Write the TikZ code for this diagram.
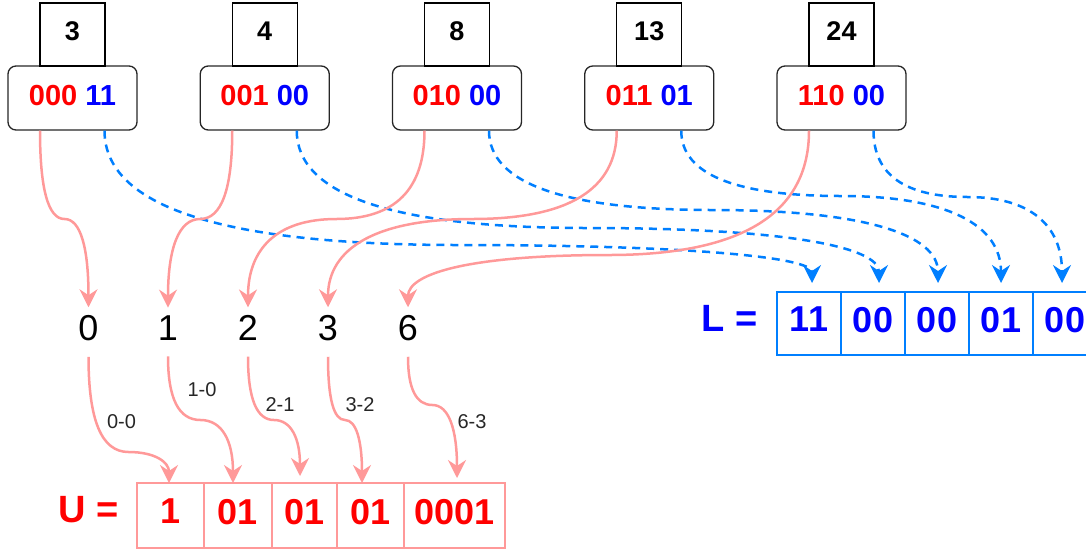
\documentclass[tikz,border=0pt]{standalone}
\usepackage{fontspec}
\setmainfont{Liberation Sans}
\usetikzlibrary{arrows.meta,calc}
\definecolor{tred}{HTML}{FF0000}
\definecolor{tblue}{HTML}{0000FF}
\definecolor{lred}{HTML}{FF9999}
\definecolor{lblue}{HTML}{007FFF}
\begin{document}
\begin{tikzpicture}[x=1pt,y=-1pt,
  topbox/.style={draw=black, line width=1.3pt, minimum width=65pt, minimum height=63pt, inner sep=0pt, text depth=7pt, font=\bfseries\fontsize{27}{30}\selectfont},
  bitbox/.style={draw=black!85, line width=1.3pt, rounded corners=8pt, minimum width=129pt, minimum height=64pt, inner sep=0pt, text depth=5pt, font=\bfseries\fontsize{29}{32}\selectfont},
  num/.style={inner sep=0pt, outer ysep=8pt, font=\fontsize{36}{40}\selectfont},
  lab/.style={inner sep=0pt, text=black!85, font=\fontsize{20}{22}\selectfont},
  lcell/.style={draw=lblue, line width=1.2pt, minimum width=64pt, minimum height=63pt, inner sep=0pt, outer ysep=9pt, text depth=8pt, text=tblue, font=\bfseries\fontsize{36}{40}\selectfont},
  ucell/.style={draw=lred, line width=1.2pt, minimum height=65pt, inner sep=0pt, outer ysep=0pt, text depth=8pt, text=tred, font=\bfseries\fontsize{36}{40}\selectfont},
  biglab/.style={inner sep=0pt, font=\bfseries\fontsize{38}{40}\selectfont},
  redc/.style={draw=lred, line width=2.5pt, -{Stealth[length=18pt,width=18pt,inset=6pt]}},
  bluec/.style={draw=lblue, line width=2.5pt, dash pattern=on 8pt off 6pt, -{Stealth[length=18pt,width=18pt,inset=6pt]}}
]
\useasboundingbox (0,0) rectangle (1086,550);
\clip (0,0) rectangle (1086,550);

% top boxes
\node[bitbox] (b1) at (72.5,98) {\textcolor{tred}{000} \textcolor{tblue}{11}};
\node[bitbox] (b2) at (264.75,98) {\textcolor{tred}{001} \textcolor{tblue}{00}};
\node[bitbox] (b3) at (457,98) {\textcolor{tred}{010} \textcolor{tblue}{00}};
\node[bitbox] (b4) at (649.25,98) {\textcolor{tred}{011} \textcolor{tblue}{01}};
\node[bitbox] (b5) at (841.5,98) {\textcolor{tred}{110} \textcolor{tblue}{00}};
\node[topbox] (k1) at (72.5,34.5) {3};
\node[topbox] (k2) at (264.75,34.5) {4};
\node[topbox] (k3) at (457,34.5) {8};
\node[topbox] (k4) at (649.25,34.5) {13};
\node[topbox] (k5) at (841.5,34.5) {24};

\foreach \i in {1,...,5}{
  \coordinate (r\i) at ($(b\i.south)+(-32.5,0)$);
  \coordinate (u\i) at ($(b\i.south)+(32,0)$);
}

% numbers
\node[num] (n0) at (88.5,328) {0};
\node[num] (n1) at (168,328) {1};
\node[num] (n2) at (248,328) {2};
\node[num] (n3) at (328,328) {3};
\node[num] (n6) at (408,328) {6};

% L array
\node[biglab, text=tblue] (Llab) at (729.5,318) {L =};
\node[lcell] (L1) at (809,323.5) {11};
\node[lcell] (L2) at (873,323.5) {00};
\node[lcell] (L3) at (937,323.5) {00};
\node[lcell] (L4) at (1001,323.5) {01};
\node[lcell] (L5) at (1065,323.5) {00};

% U array
\node[biglab, text=tred] (Ulab) at (89,510) {U =};
\node[ucell, minimum width=67pt] (U1) at (170.5,515.5) {1};
\node[ucell, minimum width=68pt] (U2) at (238,515.5) {01};
\node[ucell, minimum width=65pt] (U3) at (304.5,515.5) {01};
\node[ucell, minimum width=67pt] (U4) at (370.5,515.5) {01};
\node[ucell, minimum width=101pt] (U5) at (454.5,515.5) {0001};

% blue dashed connectors (low bits to L)
\draw[bluec] (u1) .. controls (104.5,206.7) and (222.4,245) .. (458.25,245) .. controls (694.1,245) and (812,257.7) .. ([xshift=3pt]L1.north);
\draw[bluec] (u2) .. controls (296.75,195.3) and (393.8,228) .. (587.9,228) .. controls (782,228) and (879,246.3) .. ([xshift=6pt]L2.north);
\draw[bluec] (u3) .. controls (489,183.3) and (563.8,210) .. (713.5,210) .. controls (863.2,210) and (938,234.3) .. ([xshift=1pt]L3.north);
\draw[bluec] (u4) .. controls (681.25,174) and (734.5,196) .. (841.1,196) .. controls (947.7,196) and (1001,225) .. (L4.north);
\draw[bluec] (u5) .. controls (873.5,174.7) and (904.9,197) .. (967.75,197) .. controls (1030.6,197) and (1062,225.7) .. ([xshift=-3pt]L5.north);

% red connectors (high bits to numbers)
\draw[redc] (r1) .. controls (40,189.3) and (48.2,219) .. (64.5,219) .. controls (80.8,219) and (88.5,248.3) .. (n0.north);
\draw[redc] (r2) .. controls (232.25,189.3) and (221.5,219) .. (200.1,219) .. controls (178.7,219) and (168,248.3) .. (n1.north);
\draw[redc] (r3) .. controls (424.5,189.3) and (395.1,219) .. (336.25,219) .. controls (277.4,219) and (248,248.3) .. (n2.north);
\draw[redc] (r4) .. controls (616.75,189.3) and (568.6,219) .. (472.4,219) .. controls (376.1,219) and (328,248.3) .. (n3.north);
\draw[redc] (r5) .. controls (809,213.3) and (742.2,255) .. (608.5,255) .. controls (474.8,255) and (408,272.3) .. (n6.north);

% red connectors (numbers to U)
\draw[redc] ([yshift=-8pt]n0.south) .. controls (88.5,420.3) and (101.5,452) .. (128.5,452) .. controls (155.5,452) and (169,462.3) .. ([xshift=-1.5pt]U1.north);
\draw[redc] ([yshift=-8pt]n1.south) .. controls (168,399) and (178.8,420) .. (200.5,420) .. controls (222.2,420) and (233,441) .. ([xshift=-5pt]U2.north);
\draw[redc] ([yshift=-8pt]n2.south) .. controls (248,399) and (256.7,420) .. (274,420) .. controls (291.3,420) and (300,438.7) .. ([xshift=-4.5pt,yshift=7pt]U3.north);
\draw[redc] ([yshift=-8pt]n3.south) .. controls (328,399) and (333.7,420) .. (345,420) .. controls (356.3,420) and (362,441) .. ([xshift=-8.5pt]U4.north);
\draw[redc] ([yshift=-8pt]n6.south) .. controls (408,389) and (416.2,405) .. (432.5,405) .. controls (448.8,405) and (457,429.3) .. ([xshift=2.5pt,yshift=5pt]U5.north);

% edge labels
\node[lab] (l0) at (121.5,422) {0-0};
\node[lab] (l1) at (202,390) {1-0};
\node[lab] (l2) at (280,405) {2-1};
\node[lab] (l3) at (360,405) {3-2};
\node[lab] (l6) at (472,422) {6-3};
\end{tikzpicture}
\end{document}
